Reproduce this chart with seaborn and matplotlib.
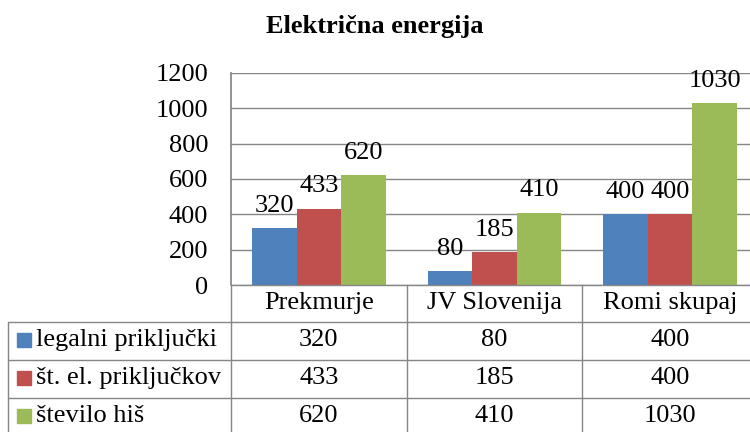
import matplotlib
matplotlib.use("Agg")
import matplotlib.pyplot as plt
import matplotlib.transforms as mtransforms
from matplotlib.lines import Line2D
from matplotlib.patches import Rectangle
import pandas as pd
import seaborn as sns

# %%
categories = ["Prekmurje", "JV Slovenija", "Romi skupaj"]
series = ["legalni priključki", "št. el. priključkov", "število hiš"]
legalni = [320, 80, 400]
prikljuckov = [433, 185, 400]
hise = [620, 410, 1030]
colors = ["#4F81BD", "#C0504D", "#9BBB59"]
values = [legalni, prikljuckov, hise]

df = pd.DataFrame({
    "kategorija": categories * 3,
    "serija": [s for s in series for _ in categories],
    "vrednost": legalni + prikljuckov + hise,
})

# %%
sns.set_theme(style="white")
plt.rcParams["font.family"] = ["Liberation Serif", "DejaVu Serif"]
plt.rcParams["text.color"] = "black"
plt.rcParams["ytick.color"] = "black"
plt.rcParams["ytick.labelcolor"] = "black"
FS = 19
GRID = "#868686"
W, H = 750, 432

fig = plt.figure(figsize=(W / 100, H / 100), dpi=100)
ax = fig.add_axes([231 / W, 1 - 285 / H, (758 - 231) / W, (285 - 73) / H])
sns.barplot(data=df, x="kategorija", y="vrednost", hue="serija", palette=colors,
            width=0.76, saturation=1, linewidth=0, legend=False, ax=ax)
for c in ax.containers:
    ax.bar_label(c, padding=8, fontsize=FS, color="black")

ax.set_xlim(-0.5, 2.5)
ax.set_ylim(0, 1200)
ax.set_yticks(range(0, 1201, 200))
ax.set_xticks([])
ax.set_xlabel("")
ax.set_ylabel("")
ax.yaxis.grid(True, color=GRID, linewidth=1)
ax.set_axisbelow(True)
ax.tick_params(axis="y", labelsize=FS, length=0, pad=16.5, labelcolor="black")
for s in ["top", "right", "bottom"]:
    ax.spines[s].set_visible(False)
ax.spines["left"].set_color(GRID)

fig.text(0.5, 1 - 26 / H, "Električna energija", ha="center", va="center",
         fontsize=19, fontweight="bold", color="black")

# %% data table under the chart
fy = lambda px: 1 - px / H
fx = lambda px: px / W
trans = mtransforms.blended_transform_factory(ax.transData, fig.transFigure)

def line(xs, ys, tr):
    fig.add_artist(Line2D(xs, ys, transform=tr, color=GRID, linewidth=1, clip_on=False))

line([fx(231), 1], [fy(285), fy(285)], fig.transFigure)
for py in [322, 360, 398]:
    line([fx(8), 1], [fy(py), fy(py)], fig.transFigure)
line([fx(8), fx(8)], [fy(322), 0], fig.transFigure)
line([fx(231), fx(231)], [fy(285), 0], fig.transFigure)
for d in [0.5, 1.5, 2.5]:
    line([d, d], [fy(285), 0], trans)

for i, cat in enumerate(categories):
    fig.text(i, fy(303), cat, transform=trans, ha="center", va="center",
             fontsize=FS, color="black")

row_y = [340, 378, 416]
for name, vals, col, py in zip(series, values, colors, row_y):
    fig.add_artist(Rectangle((fx(17), fy(py + 7)), 14 / W, 14 / H,
                             transform=fig.transFigure, color=col))
    fig.text(fx(36), fy(py), name, ha="left", va="center", fontsize=FS, color="black")
    for i, v in enumerate(vals):
        fig.text(i, fy(py), str(v), transform=trans, ha="center", va="center",
                 fontsize=FS, color="black")

fig.savefig("out.png", dpi=100)
